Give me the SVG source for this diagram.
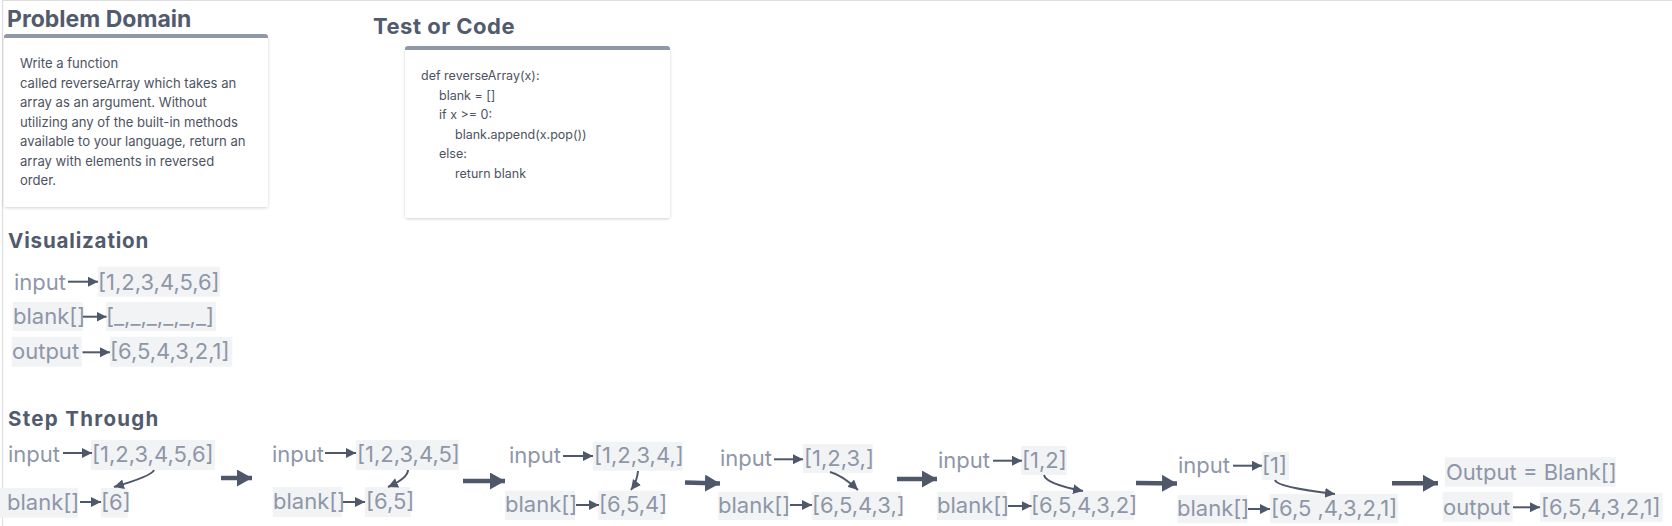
<svg xmlns="http://www.w3.org/2000/svg" width="1672" height="526" viewBox="0 0 1672 526">
<style>
.h{font-family:Inter,"Liberation Sans",sans-serif;font-weight:700;fill:#525b6e}
.c{font-family:Inter,"Liberation Sans",sans-serif;font-size:12.5px;fill:#4d5361}
.c1{font-size:13.1px}
.v{font-family:Inter,"Liberation Sans",sans-serif;font-size:22px;fill:#8e96a8}
.bg{fill:#f2f3f5}
.ln{fill:none;stroke:#4f586b;stroke-width:2}
.big{fill:none;stroke:#4f586b;stroke-width:4.5}
.card{fill:#ffffff;filter:url(#sh)}
.bar{fill:#8f98a8}
</style>
<defs>
<filter id="sh" x="-10%" y="-10%" width="120%" height="130%">
<feDropShadow dx="0" dy="1" stdDeviation="1.5" flood-color="#000" flood-opacity="0.18"/>
</filter>
<marker id="a" markerUnits="userSpaceOnUse" markerWidth="11" markerHeight="11" refX="10" refY="5" orient="auto">
<path d="M0,0 L10,5 L0,10 z" fill="#4f586b"/>
</marker>
<marker id="b" markerUnits="userSpaceOnUse" markerWidth="16" markerHeight="18" refX="15" refY="8.5" orient="auto">
<path d="M0,0 L15,8.5 L0,17 z" fill="#4f586b"/>
</marker>
</defs>
<rect x="0" y="0" width="1672" height="526" fill="#ffffff"/>
<path d="M2.5,526 V0.5 H1672" fill="none" stroke="#dddddd" stroke-width="1.2"/>

<g id="problem-domain">
<text class="h" x="7" y="27" font-size="23">Problem Domain</text>
<rect class="card" x="4" y="35" width="264" height="172" rx="3"/>
<path class="bar" d="M4,38 V37 a3,3 0 0 1 3,-3 H265 a3,3 0 0 1 3,3 V38 z"/>
<text class="c c1" x="20"><tspan x="20" y="68">Write a function</tspan><tspan x="20" y="87.5">called reverseArray which takes an</tspan><tspan x="20" y="107">array as an argument. Without</tspan><tspan x="20" y="126.5">utilizing any of the built-in methods</tspan><tspan x="20" y="146">available to your language, return an</tspan><tspan x="20" y="165.5">array with elements in reversed</tspan><tspan x="20" y="185">order.</tspan></text>
</g>

<g id="test-or-code">
<text class="h" x="373" y="34" font-size="22" letter-spacing="0.5">Test or Code</text>
<rect class="card" x="405" y="47" width="265" height="171" rx="3"/>
<path class="bar" d="M405,50 V49 a3,3 0 0 1 3,-3 H667 a3,3 0 0 1 3,3 V50 z"/>
<text class="c"><tspan x="421" y="80">def reverseArray(x):</tspan><tspan x="439" y="100">blank = []</tspan><tspan x="439" y="119">if x &gt;= 0:</tspan><tspan x="455" y="139">blank.append(x.pop())</tspan><tspan x="439" y="158">else:</tspan><tspan x="455" y="178">return blank</tspan></text>
</g>

<g id="visualization">
<text class="h" x="8" y="248" font-size="20.6" letter-spacing="0.8">Visualization</text>
<rect class="bg" x="97.7" y="266.7" width="122.3" height="30"/>
<text class="v" x="14" y="290">input</text>
<text class="v" x="98" y="290">[1,2,3,4,5,6]</text>
<rect class="bg" x="12.7" y="302" width="70" height="29"/>
<rect class="bg" x="106" y="302" width="110" height="29"/>
<text class="v" x="13" y="324">blank[]</text>
<text class="v" x="106" y="324">[_,_,_,_,_,_]</text>
<rect class="bg" x="11.7" y="336.7" width="70" height="30"/>
<rect class="bg" x="110" y="336.7" width="122.3" height="30"/>
<text class="v" x="12" y="359">output</text>
<text class="v" x="110" y="359">[6,5,4,3,2,1]</text>
</g>

<g id="step-through-title">
<text class="h" x="8" y="426" font-size="20.5" letter-spacing="1.3">Step Through</text>
</g>

<g id="step1">
<rect class="bg" x="90.7" y="440" width="124.3" height="30"/>
<text class="v" x="8" y="462">input</text>
<text class="v" x="92" y="462">[1,2,3,4,5,6]</text>
<rect class="bg" x="0" y="488" width="78" height="29.7"/>
<rect class="bg" x="100.7" y="488" width="27" height="29.7"/>
<text class="v" x="7" y="510">blank[]</text>
<text class="v" x="101" y="510">[6]</text>
</g>

<g id="step2">
<rect class="bg" x="356" y="440" width="103" height="30"/>
<text class="v" x="272" y="462">input</text>
<text class="v" x="357" y="462">[1,2,3,4,5]</text>
<rect class="bg" x="272.7" y="487" width="69" height="30"/>
<rect class="bg" x="365" y="487" width="45.7" height="30"/>
<text class="v" x="273" y="509">blank[]</text>
<text class="v" x="366" y="509">[6,5]</text>
</g>

<g id="step3">
<rect class="bg" x="592.7" y="441.7" width="90" height="29"/>
<text class="v" x="509" y="463">input</text>
<text class="v" x="594" y="463">[1,2,3,4,]</text>
<rect class="bg" x="505" y="490.7" width="70" height="29.3"/>
<rect class="bg" x="598.3" y="490.7" width="65" height="29.3"/>
<text class="v" x="505" y="512">blank[]</text>
<text class="v" x="599" y="512">[6,5,4]</text>
</g>

<g id="step4">
<rect class="bg" x="802.7" y="444" width="70" height="29"/>
<text class="v" x="720" y="466">input</text>
<text class="v" x="804" y="466">[1,2,3,]</text>
<rect class="bg" x="718.3" y="491.7" width="70" height="28.3"/>
<rect class="bg" x="811.7" y="491.7" width="89.3" height="28.3"/>
<text class="v" x="718" y="513">blank[]</text>
<text class="v" x="812" y="513">[6,5,4,3,]</text>
</g>

<g id="step5">
<rect class="bg" x="1021" y="446" width="45.7" height="29"/>
<text class="v" x="938" y="468">input</text>
<text class="v" x="1022" y="468">[1,2]</text>
<rect class="bg" x="936.7" y="491.7" width="70" height="28.3"/>
<rect class="bg" x="1030" y="491" width="104" height="29"/>
<text class="v" x="937" y="513">blank[]</text>
<text class="v" x="1031" y="513">[6,5,4,3,2]</text>
</g>

<g id="step6">
<rect class="bg" x="1261.7" y="451.7" width="27.3" height="28.3"/>
<text class="v" x="1178" y="473">input</text>
<text class="v" x="1262" y="473">[1]</text>
<rect class="bg" x="1177.3" y="495" width="70" height="28.3"/>
<rect class="bg" x="1270" y="494" width="128.3" height="29.3"/>
<text class="v" x="1177" y="516">blank[]</text>
<text class="v" x="1271" y="516">[6,5 ,4,3,2,1]</text>
</g>

<g id="step7">
<rect class="bg" x="1445" y="457.3" width="170.7" height="29.4"/>
<text class="v" x="1446" y="480">Output = Blank[]</text>
<rect class="bg" x="1442.7" y="491.7" width="70" height="30"/>
<rect class="bg" x="1540" y="492.7" width="122.7" height="29"/>
<text class="v" x="1443" y="515">output</text>
<text class="v" x="1541" y="515">[6,5,4,3,2,1]</text>
</g>

<g id="connectors">
<line class="ln" x1="68" y1="281.7" x2="98" y2="281.7" marker-end="url(#a)"/>
<line class="ln" x1="83" y1="316.7" x2="106.5" y2="316.7" marker-end="url(#a)"/>
<line class="ln" x1="82.5" y1="352.3" x2="110" y2="352.3" marker-end="url(#a)"/>

<line class="ln" x1="63" y1="453" x2="92" y2="453" marker-end="url(#a)"/>
<line class="ln" x1="80" y1="502" x2="101" y2="502" marker-end="url(#a)"/>
<path class="ln" d="M154,470 Q152,476 114,487" marker-end="url(#a)"/>
<line class="big" x1="221" y1="478" x2="252" y2="478" marker-end="url(#b)"/>

<line class="ln" x1="325" y1="453" x2="356" y2="453" marker-end="url(#a)"/>
<line class="ln" x1="343" y1="502" x2="365" y2="502" marker-end="url(#a)"/>
<path class="ln" d="M408,470 Q408,478 388,487" marker-end="url(#a)"/>
<line class="big" x1="463" y1="481" x2="505" y2="481" marker-end="url(#b)"/>

<line class="ln" x1="563" y1="456" x2="593" y2="456" marker-end="url(#a)"/>
<line class="ln" x1="576" y1="505" x2="599" y2="505" marker-end="url(#a)"/>
<path class="ln" d="M638,471 Q637,482 631,490" marker-end="url(#a)"/>
<line class="big" x1="685" y1="482.5" x2="720" y2="483.5" marker-end="url(#b)"/>

<line class="ln" x1="774" y1="459.3" x2="803" y2="459.3" marker-end="url(#a)"/>
<line class="ln" x1="790" y1="505" x2="812" y2="505" marker-end="url(#a)"/>
<path class="ln" d="M830,472 Q842,475 858,490" marker-end="url(#a)"/>
<line class="big" x1="897" y1="479" x2="937" y2="479" marker-end="url(#b)"/>

<line class="ln" x1="993" y1="460.7" x2="1022" y2="460.7" marker-end="url(#a)"/>
<line class="ln" x1="1008" y1="506" x2="1031.5" y2="506" marker-end="url(#a)"/>
<path class="ln" d="M1044,475 Q1046,484 1083,491" marker-end="url(#a)"/>
<line class="big" x1="1136" y1="483" x2="1177" y2="483.5" marker-end="url(#b)"/>

<line class="ln" x1="1233" y1="465.7" x2="1262" y2="465.7" marker-end="url(#a)"/>
<line class="ln" x1="1248" y1="509" x2="1270" y2="509" marker-end="url(#a)"/>
<path class="ln" d="M1275,480 Q1276,487 1335,494" marker-end="url(#a)"/>
<line class="big" x1="1392" y1="483.3" x2="1438" y2="483.3" marker-end="url(#b)"/>

<line class="ln" x1="1513" y1="507.3" x2="1540" y2="507.3" marker-end="url(#a)"/>
</g>
</svg>
